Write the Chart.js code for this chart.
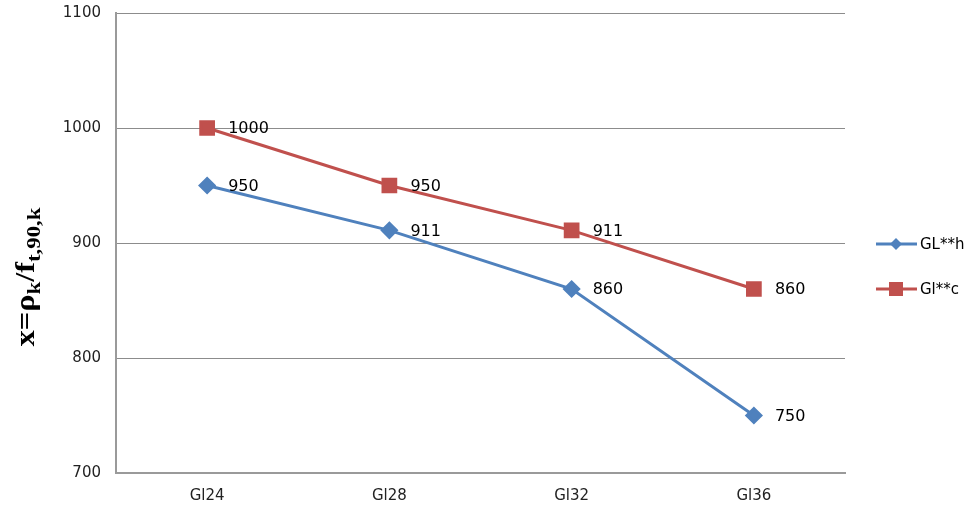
<!DOCTYPE html>
<html>
<head>
<meta charset="utf-8">
<script src="https://cdn.jsdelivr.net/npm/chart.js@4/dist/chart.umd.min.js"></script>
<style>
  html, body { margin: 0; padding: 0; background: #fff; }
  #wrap { width: 980px; height: 519px; position: relative; }
</style>
</head>
<body>
<div id="wrap"><canvas id="chart"></canvas></div>
<script>
// chart data
const categories = ['Gl24', 'Gl28', 'Gl32', 'Gl36'];
const seriesNames = ['GL**h', 'Gl**c'];
const valuesH = [950, 911, 860, 750];
const valuesC = [1000, 950, 911, 860];
const yTicks = [700, 800, 900, 1000, 1100];

const blue = '#4F81BD';
const red = '#C0504D';

// value labels to the right of each point
const pointLabels = {
  id: 'pointLabels',
  afterDatasetsDraw(chart) {
    const ctx = chart.ctx;
    ctx.save();
    ctx.font = '16px "DejaVu Sans", Verdana, sans-serif';
    ctx.fillStyle = '#000';
    ctx.textAlign = 'left';
    ctx.textBaseline = 'middle';
    chart.data.datasets.forEach((ds, i) => {
      chart.getDatasetMeta(i).data.forEach((pt, j) => {
        ctx.fillText(String(ds.data[j]), pt.x + 21, pt.y + 1);
      });
    });
    ctx.restore();
  }
};

// rotated y axis title with subscripts
const yTitle = {
  id: 'yTitle',
  afterDraw(chart) {
    const ctx = chart.ctx;
    const parts = [
      { t: 'x=ρ', big: true },
      { t: 'k', big: false },
      { t: '/f', big: true },
      { t: 't,90,k', big: false }
    ];
    const bigFont = 'bold 27px "Liberation Serif", "Times New Roman", serif';
    const smallFont = 'bold 19px "Liberation Serif", "Times New Roman", serif';
    ctx.save();
    let total = 0;
    parts.forEach(p => {
      ctx.font = p.big ? bigFont : smallFont;
      p.w = ctx.measureText(p.t).width;
      total += p.w;
    });
    ctx.translate(34, 277);
    ctx.rotate(-Math.PI / 2);
    ctx.scale(139 / total, 1);
    ctx.fillStyle = '#000';
    ctx.textBaseline = 'alphabetic';
    let x = -total / 2;
    parts.forEach(p => {
      ctx.font = p.big ? bigFont : smallFont;
      ctx.fillText(p.t, x, p.big ? 0 : 6);
      x += p.w;
    });
    ctx.restore();
  }
};

// legend on the right, line with marker
const sideLegend = {
  id: 'sideLegend',
  afterDraw(chart) {
    const ctx = chart.ctx;
    const items = [
      { name: seriesNames[0], color: blue, shape: 'diamond', y: 244 },
      { name: seriesNames[1], color: red, shape: 'square', y: 289 }
    ];
    ctx.save();
    items.forEach(it => {
      ctx.strokeStyle = it.color;
      ctx.lineWidth = 3;
      ctx.beginPath();
      ctx.moveTo(876, it.y);
      ctx.lineTo(917, it.y);
      ctx.stroke();
      ctx.fillStyle = it.color;
      if (it.shape === 'diamond') {
        ctx.beginPath();
        ctx.moveTo(896, it.y - 6);
        ctx.lineTo(902, it.y);
        ctx.lineTo(896, it.y + 6);
        ctx.lineTo(890, it.y);
        ctx.closePath();
        ctx.fill();
      } else {
        ctx.fillRect(889, it.y - 7, 14, 14);
      }
      ctx.fillStyle = '#000';
      ctx.font = '15px "DejaVu Sans", Verdana, sans-serif';
      ctx.textAlign = 'left';
      ctx.textBaseline = 'middle';
      ctx.fillText(it.name, 920, it.y + 1);
    });
    ctx.restore();
  }
};

new Chart(document.getElementById('chart'), {
  type: 'line',
  data: {
    labels: categories,
    datasets: [
      {
        label: seriesNames[0],
        data: valuesH,
        borderColor: blue,
        backgroundColor: blue,
        borderWidth: 3,
        pointStyle: 'rectRot',
        pointRadius: 7,
        pointHoverRadius: 7,
        tension: 0
      },
      {
        label: seriesNames[1],
        data: valuesC,
        borderColor: red,
        backgroundColor: red,
        borderWidth: 3,
        pointStyle: 'rect',
        pointRadius: 9,
        pointHoverRadius: 9,
        tension: 0
      }
    ]
  },
  options: {
    responsive: true,
    maintainAspectRatio: false,
    animation: false,
    layout: { padding: { left: 0, right: 135, top: 13, bottom: 0 } },
    plugins: {
      legend: { display: false },
      tooltip: { enabled: false }
    },
    scales: {
      x: {
        offset: true,
        grid: { display: false, drawTicks: false },
        border: { display: true, color: '#9a9a9a', width: 2 },
        ticks: {
          color: '#222',
          font: { family: '"DejaVu Sans", Verdana, sans-serif', size: 15 },
          padding: 14
        },
        afterFit: s => { s.height = 46; }
      },
      y: {
        min: 700,
        max: 1100,
        afterBuildTicks: s => { s.ticks = yTicks.map(v => ({ value: v })); },
        grid: { color: '#8c8c8c', lineWidth: 1, drawTicks: false },
        border: { display: true, color: '#9a9a9a', width: 2 },
        ticks: {
          color: '#222',
          font: { family: '"DejaVu Sans", Verdana, sans-serif', size: 15 },
          padding: 15,
          callback: v => String(v)
        },
        afterFit: s => { s.width = 116; s.paddingTop = 0; s.paddingBottom = 0; }
      }
    }
  },
  plugins: [pointLabels, yTitle, sideLegend]
});
</script>
</body>
</html>
